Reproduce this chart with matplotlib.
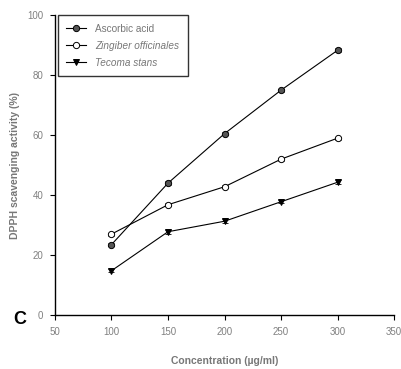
import matplotlib as mpl
import matplotlib.pyplot as plt

mpl.rcParams.update({
    "font.family": "sans-serif",
    "font.sans-serif": ["Liberation Sans", "DejaVu Sans"],
    "axes.linewidth": 1.0,
    "xtick.direction": "out",
    "ytick.direction": "out",
})

# --- Data ---
conc = [100, 150, 200, 250, 300]
ascorbic = [23.5, 44.0, 60.5, 75.0, 88.3]
zingiber = [27.0, 36.8, 42.8, 52.0, 59.0]
tecoma = [14.8, 27.8, 31.3, 37.8, 44.3]
err_asc = [0.6, 0.6, 0.6, 0.5, 0.6]
err_zin = [0.5, 0.5, 0.5, 0.5, 0.5]
err_tec = [0.5, 0.6, 0.6, 0.5, 0.6]

xticks = [50, 100, 150, 200, 250, 300, 350]
yticks = [0, 20, 40, 60, 80, 100]

fig = plt.figure(figsize=(4.01, 3.69), dpi=100)
ax = fig.add_axes([0.137, 0.146, 0.846, 0.813])

series = [
    ("Ascorbic acid", ascorbic, err_asc, "o", "#555555"),
    ("Zingiber officinales", zingiber, err_zin, "o", "white"),
    ("Tecoma stans", tecoma, err_tec, "v", "black"),
]
for label, vals, err, mk, fc in series:
    ax.errorbar(conc, vals, yerr=err, fmt="none", ecolor="black",
                elinewidth=0.6, capsize=2, capthick=0.6)
    ax.plot(conc, vals, color="black", linewidth=0.8, marker=mk,
            markersize=4.5, markerfacecolor=fc, markeredgecolor="black",
            markeredgewidth=0.7, label=label)

ax.set_xlim(50, 350)
ax.set_ylim(0, 100)
ax.set_xticks(xticks)
ax.set_yticks(yticks)
ax.tick_params(labelsize=7, labelcolor="#808080", length=3.5, width=0.8, pad=5)
ax.spines[["top", "right"]].set_visible(False)

ax.set_xlabel("Concentration (\u00b5g/ml)", fontsize=7.5, fontweight="bold",
              color="#777777", labelpad=14)
ax.set_ylabel("DPPH scavenging activity (%)", fontsize=7.5, fontweight="bold",
              color="#777777", labelpad=5)

leg = ax.legend(loc="upper left", bbox_to_anchor=(0.009, 1.0), fontsize=7.2,
                frameon=True, fancybox=False, borderaxespad=0.0,
                handlelength=2.0, handletextpad=0.9, labelspacing=0.7,
                borderpad=0.85)
leg.get_frame().set_edgecolor("black")
leg.get_frame().set_linewidth(1.0)
for txt in leg.get_texts():
    txt.set_color("#777777")
leg.get_texts()[1].set_style("italic")
leg.get_texts()[2].set_style("italic")

fig.text(20 / 401, 1 - 320 / 369, "C", fontsize=13, fontweight="bold",
         ha="center", va="center")

fig.savefig("out.png", dpi=100)
